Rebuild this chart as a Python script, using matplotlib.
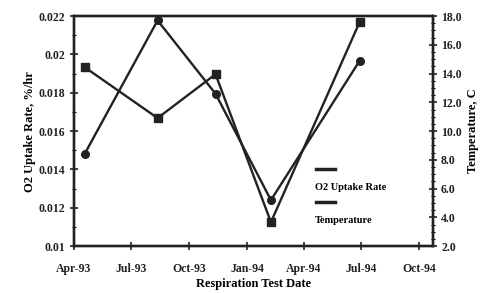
import matplotlib
matplotlib.use('Agg')
import matplotlib.pyplot as plt
import matplotlib.dates as mdates
from matplotlib.ticker import MultipleLocator, FormatStrFormatter
from matplotlib.lines import Line2D
import datetime as dt

# respiration test data
test_dates = [dt.date(1993, 4, 18), dt.date(1993, 8, 12), dt.date(1993, 11, 12),
              dt.date(1994, 2, 8), dt.date(1994, 6, 29)]
o2_uptake = [0.01934, 0.01668, 0.01897, 0.01125, 0.0217]
temperature = [8.4, 17.7, 12.6, 5.2, 14.9]

plt.rcParams['font.family'] = ['Liberation Serif', 'DejaVu Serif']
plt.rcParams['font.weight'] = 'bold'

fig = plt.figure(figsize=(4.89, 2.93), dpi=100)
ax = fig.add_axes([0.151, 0.160, 0.734, 0.785])
ax2 = ax.twinx()

ax.plot(test_dates, o2_uptake, color='#222222', lw=1.7,
        marker='s', markersize=6, label='O2 Uptake Rate')
ax2.plot(test_dates, temperature, color='#222222', lw=1.7,
         marker='o', markersize=5.5, label='Temperature')

ax.set_xlim(dt.date(1993, 4, 1), dt.date(1994, 10, 23))
ax.set_ylim(0.01, 0.022)
ax2.set_ylim(2, 18)

ax.xaxis.set_major_locator(mdates.MonthLocator(bymonth=[1, 4, 7, 10]))
ax.xaxis.set_major_formatter(mdates.DateFormatter('%b-%y'))
ax.yaxis.set_major_locator(MultipleLocator(0.002))
ax.yaxis.set_minor_locator(MultipleLocator(0.001))
ax.yaxis.set_major_formatter(FormatStrFormatter('%g'))
ax2.yaxis.set_major_locator(MultipleLocator(2))
ax2.yaxis.set_minor_locator(MultipleLocator(0.5))
ax2.yaxis.set_major_formatter(FormatStrFormatter('%.1f'))

for a in (ax, ax2):
    for s in a.spines.values():
        s.set_linewidth(1.7)
        s.set_color('#222222')
    a.tick_params(which='major', direction='inout', length=6, width=1.2,
                  labelsize=8.5, colors='#222222', pad=3)
    a.tick_params(which='minor', direction='inout', length=3, width=0.8)
ax.tick_params(axis='x', pad=9)

ax.set_xlabel('Respiration Test Date', fontsize=9, fontweight='bold', labelpad=2)
ax.set_ylabel('O2 Uptake Rate, %/hr', fontsize=9, fontweight='bold', labelpad=2)
ax2.set_ylabel('Temperature, C', fontsize=9, fontweight='bold', labelpad=4)

# legend laid out as in the original: each marker line above its label
handle_x = [0.674, 0.727]
ax.add_line(Line2D(handle_x, [0.335, 0.335], transform=ax.transAxes,
                   color='#222222', lw=2.5))
ax.text(0.672, 0.257, 'O2 Uptake Rate', transform=ax.transAxes,
        fontsize=7.5, fontweight='bold', va='center')
ax.add_line(Line2D(handle_x, [0.19, 0.19], transform=ax.transAxes,
                   color='#222222', lw=2.5))
ax.text(0.672, 0.113, 'Temperature', transform=ax.transAxes,
        fontsize=7.5, fontweight='bold', va='center')

fig.savefig('out.png', dpi=100)
